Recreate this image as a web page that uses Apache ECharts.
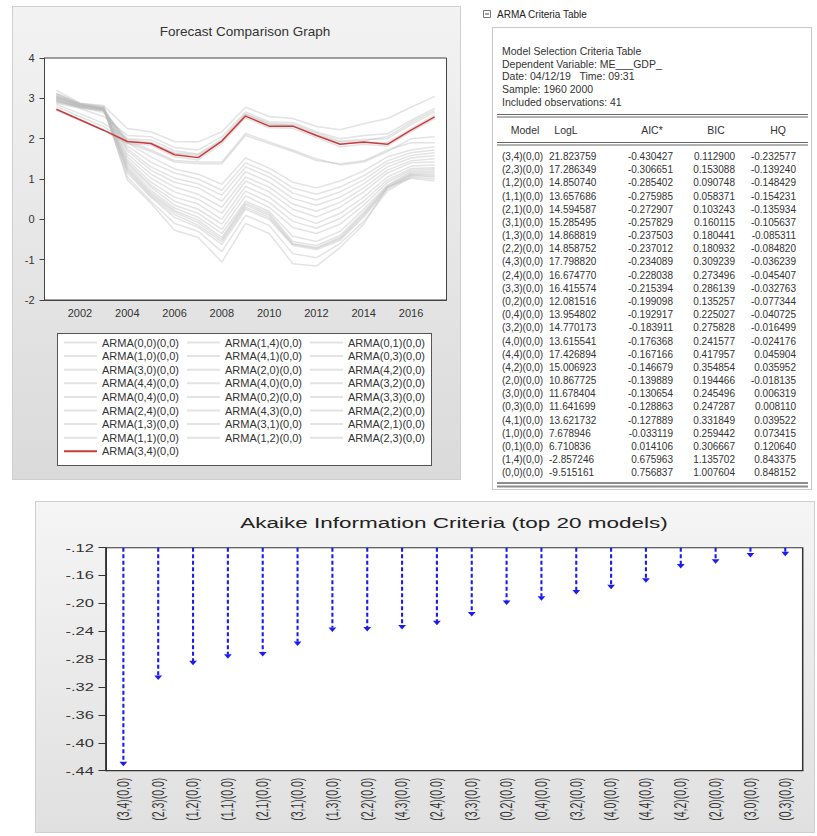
<!DOCTYPE html>
<html><head><meta charset="utf-8">
<script src="https://cdn.jsdelivr.net/npm/echarts@6/dist/echarts.min.js"></script>
<style>
html,body{margin:0;padding:0;background:#fff;width:817px;height:836px;overflow:hidden;}
.panel{position:absolute;box-sizing:border-box;}
#p1{left:12px;top:6px;width:449px;height:474px;background:linear-gradient(#f3f3f3,#dadada);border:1px solid #cfcfcf;}
#legbox{left:57px;top:333px;width:375px;height:133px;background:#fff;border:1px solid #555;}
#p2{left:492px;top:27px;width:320px;height:463px;background:#fff;border:1px solid #c9c9c9;}
#p3{left:35px;top:501px;width:780px;height:332px;background:linear-gradient(#f5f5f5,#e0e0e0);border:1px solid #cfcfcf;}
#main{position:absolute;left:0;top:0;width:817px;height:836px;}
#aicwrap{position:absolute;left:35px;top:501px;width:520px;height:332px;transform:scaleX(1.5);transform-origin:0 0;}
#aic{width:520px;height:332px;}
</style></head>
<body>
<div class="panel" id="p1"></div>
<div class="panel" id="legbox"></div>
<div class="panel" id="p2"></div>
<div class="panel" id="p3"></div>
<div id="main"></div>
<div id="aicwrap"><div id="aic"></div></div>
<script>
// ---------- Forecast comparison data (2001-2017) ----------
const years = ['2001','2002','2003','2004','2005','2006','2007','2008','2009','2010','2011','2012','2013','2014','2015','2016','2017'];
const arma00 = [3.20, 2.88, 2.80, 0.98, 0.40, -0.27, -0.45, -1.06, -0.10, -0.35, -1.10, -1.16, -0.70, -0.12, 0.80, 1.02, 0.95];
const arma14 = [3.04, 2.85, 2.75, 1.05, 0.45, -0.10, -0.30, -0.80, 0.10, -0.15, -0.85, -0.95, -0.60, -0.05, 0.70, 1.05, 1.00];
const arma01 = [2.96, 2.81, 2.72, 1.15, 0.55, 0.05, -0.20, -0.62, 0.25, 0.00, -0.65, -0.75, -0.52, 0.06, 0.75, 1.08, 1.05];
const arma10 = [3.12, 2.86, 2.77, 1.20, 0.58, 0.12, -0.15, -0.55, 0.30, 0.05, -0.62, -0.72, -0.48, 0.10, 0.78, 1.10, 1.08];
const arma41 = [3.00, 2.83, 2.74, 1.24, 0.62, 0.18, -0.08, -0.50, 0.36, 0.10, -0.60, -0.70, -0.45, 0.14, 0.80, 1.12, 1.12];
const arma03 = [2.93, 2.80, 2.73, 1.28, 0.66, 0.22, -0.02, -0.45, 0.40, 0.15, -0.55, -0.65, -0.40, 0.18, 0.82, 1.14, 1.16];
const arma30 = [3.05, 2.84, 2.76, 1.32, 0.72, 0.28, 0.05, -0.35, 0.45, 0.20, -0.42, -0.55, -0.30, 0.25, 0.85, 1.18, 1.20];
const arma20 = [2.98, 2.82, 2.72, 1.38, 0.80, 0.35, 0.15, -0.25, 0.58, 0.30, -0.20, -0.35, -0.12, 0.35, 0.92, 1.22, 1.24];
const arma42 = [3.10, 2.85, 2.76, 1.42, 0.85, 0.45, 0.25, -0.12, 0.70, 0.42, -0.05, -0.22, 0.02, 0.45, 0.98, 1.26, 1.28];
const arma44 = [2.90, 2.78, 2.70, 1.48, 0.92, 0.55, 0.38, 0.00, 0.82, 0.55, 0.10, -0.10, 0.15, 0.55, 1.05, 1.32, 1.35];
const arma40 = [3.02, 2.83, 2.75, 1.55, 1.02, 0.68, 0.50, 0.15, 0.95, 0.68, 0.25, 0.06, 0.30, 0.68, 1.15, 1.40, 1.42];
const arma32 = [2.95, 2.80, 2.72, 1.62, 1.12, 0.80, 0.62, 0.30, 1.05, 0.80, 0.38, 0.20, 0.42, 0.78, 1.22, 1.45, 1.50];
const arma04 = [3.08, 2.86, 2.78, 1.70, 1.22, 0.92, 0.78, 0.45, 1.18, 0.92, 0.52, 0.35, 0.55, 0.88, 1.30, 1.52, 1.58];
const arma02 = [2.88, 2.76, 2.70, 1.75, 1.30, 1.02, 0.88, 0.60, 1.30, 1.05, 0.65, 0.48, 0.68, 0.98, 1.38, 1.58, 1.65];
const arma33 = [3.00, 2.84, 2.74, 1.82, 1.42, 1.15, 1.00, 0.72, 1.40, 1.15, 0.78, 0.62, 0.80, 1.08, 1.45, 1.65, 1.72];
const arma24 = [2.92, 2.80, 2.72, 1.90, 1.55, 1.25, 1.12, 0.87, 1.52, 1.27, 0.92, 0.78, 0.95, 1.20, 1.55, 1.72, 1.80];
const arma43 = [2.95, 2.78, 2.65, 1.90, 1.68, 1.42, 1.38, 1.38, 2.08, 1.88, 1.68, 1.46, 1.38, 1.45, 1.72, 1.90, 1.90];
const arma22 = [3.02, 2.85, 2.70, 1.95, 1.72, 1.46, 1.42, 1.42, 2.13, 1.92, 1.72, 1.50, 1.35, 1.42, 1.68, 2.00, 2.05];
const arma13 = [2.80, 2.55, 2.30, 1.93, 1.90, 1.63, 1.56, 1.93, 2.58, 2.34, 2.32, 2.08, 1.88, 1.90, 1.90, 2.25, 2.58];
const arma31 = [3.05, 2.82, 2.68, 1.98, 1.90, 1.65, 1.60, 1.95, 2.60, 2.36, 2.33, 2.10, 1.92, 1.95, 2.05, 2.40, 2.70];
const arma21 = [2.70, 2.45, 2.20, 1.88, 1.84, 1.55, 1.47, 1.88, 2.52, 2.27, 2.26, 2.03, 1.80, 1.86, 1.82, 2.17, 2.50];
const arma11 = [2.85, 2.62, 2.38, 2.00, 1.97, 1.70, 1.62, 1.98, 2.62, 2.38, 2.36, 2.14, 1.94, 1.98, 2.00, 2.35, 2.65];
const arma12 = [2.97, 2.75, 2.55, 2.08, 2.05, 1.78, 1.72, 2.05, 2.66, 2.42, 2.40, 2.17, 2.00, 2.08, 2.12, 2.45, 2.75];
const arma23 = [3.12, 2.88, 2.82, 2.25, 2.17, 1.93, 1.92, 2.17, 2.78, 2.55, 2.50, 2.30, 2.22, 2.37, 2.50, 2.78, 3.05];
const arma34 = [2.73, 2.47, 2.21, 1.93, 1.88, 1.60, 1.53, 1.94, 2.56, 2.31, 2.31, 2.08, 1.86, 1.92, 1.86, 2.21, 2.54];

const forecastNames = ['ARMA(0,0)(0,0)','ARMA(1,4)(0,0)','ARMA(0,1)(0,0)','ARMA(1,0)(0,0)','ARMA(4,1)(0,0)','ARMA(0,3)(0,0)',
  'ARMA(3,0)(0,0)','ARMA(2,0)(0,0)','ARMA(4,2)(0,0)','ARMA(4,4)(0,0)','ARMA(4,0)(0,0)','ARMA(3,2)(0,0)',
  'ARMA(0,4)(0,0)','ARMA(0,2)(0,0)','ARMA(3,3)(0,0)','ARMA(2,4)(0,0)','ARMA(4,3)(0,0)','ARMA(2,2)(0,0)',
  'ARMA(1,3)(0,0)','ARMA(3,1)(0,0)','ARMA(2,1)(0,0)','ARMA(1,1)(0,0)','ARMA(1,2)(0,0)','ARMA(2,3)(0,0)','ARMA(3,4)(0,0)'];
const forecastValues = [arma00, arma14, arma01, arma10, arma41, arma03, arma30, arma20, arma42, arma44, arma40, arma32,
  arma04, arma02, arma33, arma24, arma43, arma22, arma13, arma31, arma21, arma11, arma12, arma23, arma34];
const highlighted = 'ARMA(3,4)(0,0)';
const yTicksTop = {min: -2, max: 4, interval: 1};

// ---------- Criteria table ----------
const headerLines = ['Model Selection Criteria Table','Dependent Variable: ME___GDP_','Date: 04/12/19   Time: 09:31','Sample: 1960 2000','Included observations: 41'];
const tableColumns = ['Model','LogL','AIC*','BIC','HQ'];
const tableModels = ['(3,4)(0,0)','(2,3)(0,0)','(1,2)(0,0)','(1,1)(0,0)','(2,1)(0,0)','(3,1)(0,0)','(1,3)(0,0)','(2,2)(0,0)','(4,3)(0,0)','(2,4)(0,0)','(3,3)(0,0)','(0,2)(0,0)','(0,4)(0,0)','(3,2)(0,0)','(4,0)(0,0)','(4,4)(0,0)','(4,2)(0,0)','(2,0)(0,0)','(3,0)(0,0)','(0,3)(0,0)','(4,1)(0,0)','(1,0)(0,0)','(0,1)(0,0)','(1,4)(0,0)','(0,0)(0,0)'];
const tableLogL = [21.823759,17.286349,14.850740,13.657686,14.594587,15.285495,14.868819,14.858752,17.798820,16.674770,16.415574,12.081516,13.954802,14.770173,13.615541,17.426894,15.006923,10.867725,11.678404,11.641699,13.621732,7.678946,6.710836,-2.857246,-9.515161];
const tableAIC = [-0.430427,-0.306651,-0.285402,-0.275985,-0.272907,-0.257829,-0.237503,-0.237012,-0.234089,-0.228038,-0.215394,-0.199098,-0.192917,-0.183911,-0.176368,-0.167166,-0.146679,-0.139889,-0.130654,-0.128863,-0.127889,-0.033119,0.014106,0.675963,0.756837];
const tableBIC = [0.112900,0.153088,0.090748,0.058371,0.103243,0.160115,0.180441,0.180932,0.309239,0.273496,0.286139,0.135257,0.225027,0.275828,0.241577,0.417957,0.354854,0.194466,0.245496,0.247287,0.331849,0.259442,0.306667,1.135702,1.007604];
const tableHQ = [-0.232577,-0.139240,-0.148429,-0.154231,-0.135934,-0.105637,-0.085311,-0.084820,-0.036239,-0.045407,-0.032763,-0.077344,-0.040725,-0.016499,-0.024176,0.045904,0.035952,-0.018135,0.006319,0.008110,0.039522,0.073415,0.120640,0.843375,0.848152];

// ---------- AIC top 20 ----------
const aicModels = ['(3,4)(0,0)','(2,3)(0,0)','(1,2)(0,0)','(1,1)(0,0)','(2,1)(0,0)','(3,1)(0,0)','(1,3)(0,0)','(2,2)(0,0)','(4,3)(0,0)','(2,4)(0,0)','(3,3)(0,0)','(0,2)(0,0)','(0,4)(0,0)','(3,2)(0,0)','(4,0)(0,0)','(4,4)(0,0)','(4,2)(0,0)','(2,0)(0,0)','(3,0)(0,0)','(0,3)(0,0)'];
const aicValues = [-0.430427,-0.306651,-0.285402,-0.275985,-0.272907,-0.257829,-0.237503,-0.237012,-0.234089,-0.228038,-0.215394,-0.199098,-0.192917,-0.183911,-0.176368,-0.167166,-0.146679,-0.139889,-0.130654,-0.128863];
const aicAxis = {min: -0.44, max: -0.12, interval: 0.04};

// ================= Chart A =================
const FONT = "'Liberation Sans', Arial, sans-serif";
const chartA = echarts.init(document.getElementById('main'), null, {renderer: 'svg'});

const series = forecastNames.map((name, i) => {
  const hi = name === highlighted;
  return {
    name: name, type: 'line', data: forecastValues[i], symbol: 'none', showSymbol: false,
    silent: true, z: hi ? 5 : 2,
    color: hi ? '#cc3b3b' : '#c4c4c4',
    lineStyle: {color: hi ? '#cc3b3b' : '#bcbcbc', width: 1.5, opacity: hi ? 1 : 0.42}
  };
});

const legendCols = [[0, 3, 6, 9, 12, 15, 18, 21, 24], [1, 4, 7, 10, 13, 16, 19, 22], [2, 5, 8, 11, 14, 17, 20, 23]];
const legendLefts = [63, 186, 309];
const legends = legendCols.map((idx, c) => ({
  orient: 'vertical', left: legendLefts[c], top: 336.5, padding: 0,
  itemWidth: 33, itemHeight: 12, itemGap: 1.6, selectedMode: false,
  itemStyle: {opacity: 0},
  data: idx.map(i => forecastNames[i]),
  textStyle: {fontSize: 11, color: '#333', fontFamily: FONT, lineHeight: 12, padding: 0}
}));

// table graphic
const g = [];
const txt = (text, x, y, align, extra) => ({
  type: 'text', x: x, y: y, silent: true, z: 10,
  style: Object.assign({text: text, fill: '#333', font: '10px ' + FONT, textAlign: align, align: align,
    textVerticalAlign: 'middle', verticalAlign: 'middle'}, extra || {})
});
const hline = (y, w, c, x1, x2) => ({type: 'line', silent: true, z: 10, shape: {x1: x1 || 497, y1: y, x2: x2 || 808, y2: y}, style: {stroke: c || '#666', lineWidth: w || 1}});

g.push({type: 'rect', silent: true, z: 10, shape: {x: 483.5, y: 10.5, width: 7, height: 7}, style: {fill: '#fff', stroke: '#777', lineWidth: 1}});
g.push({type: 'line', silent: true, z: 11, shape: {x1: 485, y1: 14, x2: 489, y2: 14}, style: {stroke: '#444', lineWidth: 1}});
g.push(txt('ARMA Criteria Table', 497, 14, 'left', {fill: '#222'}));
headerLines.forEach((t, i) => g.push(txt(t, 502, 51 + i * 12.7, 'left', {font: '10.5px ' + FONT})));
g.push(hline(114.5)); g.push(hline(117));
const colX = [525, 566, 652, 716, 778];
tableColumns.forEach((t, i) => g.push(txt(t, colX[i], 130, 'center', {font: '10.5px ' + FONT})));
g.push(hline(142.5)); g.push(hline(145));
tableModels.forEach((m, i) => {
  const y = 156.5 + i * 13.18;
  g.push(txt(m, 502, y, 'left'));
  g.push(txt(tableLogL[i].toFixed(6), 549, y, 'left'));
  g.push(txt(tableAIC[i].toFixed(6), 673, y, 'right'));
  g.push(txt(tableBIC[i].toFixed(6), 735, y, 'right'));
  g.push(txt(tableHQ[i].toFixed(6), 796, y, 'right'));
});
g.push(hline(483, 2, '#8c8c8c', 497, 808)); g.push(hline(486.5, 2, '#8c8c8c', 497, 808));

chartA.setOption({
  animation: false,
  backgroundColor: 'transparent',
  textStyle: {fontFamily: FONT},
  title: {text: 'Forecast Comparison Graph', left: 245, top: 24, padding: 0, textAlign: 'center',
    textStyle: {fontSize: 13.5, fontWeight: 'normal', color: '#333', fontFamily: FONT}},
  legend: legends,
  grid: {left: 44.5, top: 58, width: 402, height: 242, show: true, backgroundColor: '#fff', borderColor: '#444', borderWidth: 1},
  xAxis: {
    type: 'category', data: years, boundaryGap: true,
    axisLine: {onZero: false, lineStyle: {color: '#444'}},
    axisTick: {interval: 0, length: 5, lineStyle: {color: '#444'}},
    axisLabel: {interval: (i) => i % 2 === 1, fontSize: 11, color: '#333', margin: 7, fontFamily: FONT},
    splitLine: {show: false}
  },
  yAxis: {
    type: 'value', min: yTicksTop.min, max: yTicksTop.max, interval: yTicksTop.interval,
    axisLine: {show: true, lineStyle: {color: '#444'}},
    axisTick: {show: true, length: 5, lineStyle: {color: '#444'}},
    axisLabel: {fontSize: 11, color: '#333', margin: 10, fontFamily: FONT},
    splitLine: {show: false}
  },
  graphic: {elements: g},
  series: series
});

// ================= Chart B (AIC) =================
const chartB = echarts.init(document.getElementById('aic'), null, {renderer: 'svg'});
chartB.setOption({
  animation: false,
  backgroundColor: 'transparent',
  textStyle: {fontFamily: FONT},
  title: {text: 'Akaike Information Criteria (top 20 models)', left: 279.3, top: 14, padding: 0, textAlign: 'center',
    textStyle: {fontSize: 15, fontWeight: 'normal', color: '#222', fontFamily: FONT}},
  grid: {left: 47.3, top: 46.7, width: 464.5, height: 223, show: true, backgroundColor: '#fff', borderColor: '#333', borderWidth: 1},
  xAxis: {
    type: 'category', data: aicModels, boundaryGap: true,
    axisLine: {onZero: false, lineStyle: {color: '#333'}},
    axisTick: {interval: 0, length: 5, lineStyle: {color: '#333'}},
    axisLabel: {interval: 0, rotate: 90, fontSize: 10.5, color: '#333', margin: 7, fontFamily: FONT},
    splitLine: {show: false}
  },
  yAxis: {
    type: 'value', min: aicAxis.min, max: aicAxis.max, interval: aicAxis.interval,
    axisLine: {show: true, lineStyle: {color: '#333'}},
    axisTick: {show: true, length: 5, lineStyle: {color: '#333'}},
    axisLabel: {fontSize: 11, color: '#333', margin: 8, fontFamily: FONT,
      formatter: (v) => (v < 0 ? '-' : '') + '.' + String(Math.round(Math.abs(v) * 100)).padStart(2, '0')},
    splitLine: {show: false}
  },
  series: [{
    type: 'custom', silent: true,
    data: aicModels.map((m, i) => [i, aicValues[i]]),
    encode: {x: 0, y: 1},
    renderItem: function (params, api) {
      const x = api.value(0), v = api.value(1);
      const top = api.coord([x, aicAxis.max]);
      const end = api.coord([x, v]);
      return {type: 'group', children: [
        {type: 'line', shape: {x1: top[0], y1: top[1], x2: end[0], y2: end[1] - 2},
          style: {stroke: '#1c1cf2', lineWidth: 1.4, lineDash: [4, 2.5], fill: null}},
        {type: 'polygon', shape: {points: [[end[0] - 2.6, end[1] - 2.2], [end[0] + 2.6, end[1] - 2.2], [end[0], end[1] + 2.3]]},
          style: {fill: '#1c1cf2'}}
      ]};
    }
  }]
});
</script>
</body></html>
